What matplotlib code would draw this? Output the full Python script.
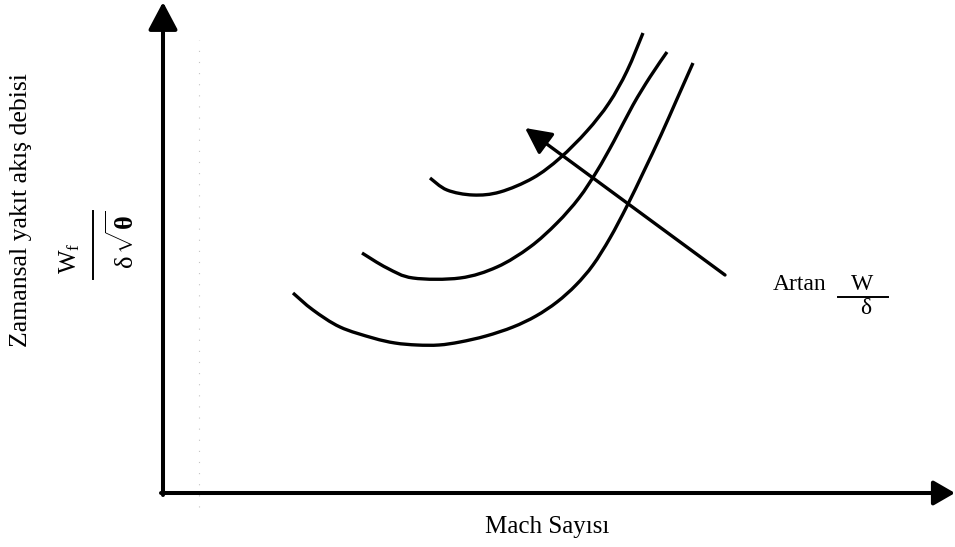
import matplotlib
matplotlib.use("Agg")
import matplotlib.pyplot as plt
from matplotlib.lines import Line2D
from matplotlib.path import Path
from matplotlib.patches import PathPatch

plt.rcParams['font.family'] = ['Liberation Serif', 'DejaVu Serif']
plt.rcParams['mathtext.fontset'] = 'custom'
plt.rcParams['mathtext.rm'] = 'Liberation Serif'
plt.rcParams['mathtext.it'] = 'Liberation Serif:italic'
plt.rcParams['mathtext.bf'] = 'Liberation Serif:bold'

# Mach number (arbitrary units) and corrected fuel flow for three W/delta levels
mach_low = [130, 150, 177, 210, 232, 254, 276, 297, 323, 350, 373, 394, 413, 430,
            447, 464, 481, 498, 514, 530]
flow_low = [200, 183, 166, 155, 150, 148, 148, 151, 157, 166, 177, 191, 208, 228,
            255, 287, 322, 358, 394, 430]

mach_mid = [199, 224, 250, 297, 334, 367, 394, 416, 434, 451, 470, 487, 504]
flow_mid = [240, 225, 215, 215, 226, 246, 270, 295, 322, 352, 388, 416, 441]

mach_high = [267, 284, 310, 337, 370, 397, 424, 446, 464, 480]
flow_high = [315, 303, 298, 301, 315, 335, 362, 390, 422, 460]

# direction of increasing W/delta
trend_start = (562, 218)
trend_end = (362, 365)

xlabel = "Mach Sayısı"
ylabel = "Zamansal yakıt akış debisi"
trend_label = "Artan"

W, H = 955, 547
fig = plt.figure(figsize=(W / 100, H / 100), dpi=100)
fig.patch.set_facecolor("white")

# axes origin sits at the corner of the L-shaped frame
x0, y0 = 163, 493
x1, y1 = 955, 2
ax = fig.add_axes([x0 / W, 1 - y0 / H, (x1 - x0) / W, (y0 - y1) / H])
ax.set_xlim(0, x1 - x0)
ax.set_ylim(0, y0 - y1)
ax.axis("off")


def fx(px):
    return px / W


def fy(py):
    return 1 - py / H


def smooth_path(xs, ys):
    """Cubic Bezier path through the given points (Catmull-Rom tangents)."""
    pts = list(zip(xs, ys))
    n = len(pts)
    verts = [pts[0]]
    codes = [Path.MOVETO]
    for i in range(n - 1):
        p0 = pts[max(i - 1, 0)]
        p1 = pts[i]
        p2 = pts[i + 1]
        p3 = pts[min(i + 2, n - 1)]
        c1 = (p1[0] + (p2[0] - p0[0]) / 6, p1[1] + (p2[1] - p0[1]) / 6)
        c2 = (p2[0] - (p3[0] - p1[0]) / 6, p2[1] - (p3[1] - p1[1]) / 6)
        verts += [c1, c2, p2]
        codes += [Path.CURVE4] * 3
    return Path(verts, codes)


# faint dotted guide
ax.plot([36, 36], [-14, 453], color="#c4c4c4", lw=0.8, ls=(0, (1, 9)), clip_on=False)

# frame arrows
ax.annotate("", xy=(x1 - x0, 0), xytext=(-2, 0),
            arrowprops=dict(arrowstyle="-|>,head_length=13,head_width=7.5",
                            mutation_scale=1, lw=2.9, color="black",
                            shrinkA=0, shrinkB=0),
            annotation_clip=False)
ax.annotate("", xy=(0, y0 - y1), xytext=(0, -2),
            arrowprops=dict(arrowstyle="-|>,head_length=17,head_width=9",
                            mutation_scale=1, lw=2.9, color="black",
                            shrinkA=0, shrinkB=0),
            annotation_clip=False)

# curves
for mx, fl in [(mach_low, flow_low), (mach_mid, flow_mid), (mach_high, flow_high)]:
    ax.add_patch(PathPatch(smooth_path(mx, fl), facecolor="none",
                           edgecolor="black", lw=2.4, capstyle="butt",
                           joinstyle="round", clip_on=False))

# trend arrow
ax.annotate("", xy=trend_end, xytext=trend_start,
            arrowprops=dict(arrowstyle="-|>,head_length=16,head_width=8",
                            mutation_scale=1, lw=2.4, color="black",
                            shrinkA=0, shrinkB=0))

# axis titles
fig.text(fx(21), fy(210), ylabel, rotation=90, fontsize=18.5,
         ha="center", va="center")
fig.text(fx(547), fy(527), xlabel, fontsize=18, ha="center", va="center")

# W_f / (delta sqrt(theta)) beside the vertical axis
fig.text(fx(70), fy(258), r"$\mathrm{W_f}$", rotation=90, fontsize=18,
         ha="center", va="center")
fig.text(fx(123), fy(240), r"$\mathrm{\delta}\,\sqrt{\mathbf{\theta}}$", rotation=90,
         fontsize=19, ha="center", va="center")
fig.add_artist(Line2D([fx(93), fx(93)], [fy(211), fy(279)],
                      color="black", lw=1.4, transform=fig.transFigure))

# "Artan W/delta"
fig.text(fx(800), fy(285), trend_label, fontsize=17, ha="center", va="center")
fig.text(fx(862), fy(285), "W", fontsize=17, ha="center", va="center")
fig.add_artist(Line2D([fx(838), fx(888)], [fy(297), fy(297)],
                      color="black", lw=1.4, transform=fig.transFigure))
fig.text(fx(866), fy(309), "δ", fontsize=17, ha="center", va="center")

fig.savefig("out.png", dpi=100, facecolor="white")
